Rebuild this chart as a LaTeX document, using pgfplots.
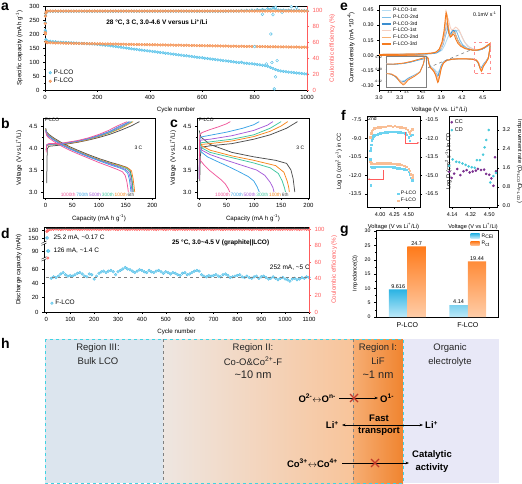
\documentclass[border=0pt]{standalone}
\usepackage{fontspec}
\setmainfont{Liberation Sans}
\usepackage{pgfplots}
\pgfplotsset{compat=1.18}
\usepackage{pgfplotstable}
\usetikzlibrary{arrows.meta}
\newcommand\fs[2]{\fontsize{#1}{#2}\selectfont}
\definecolor{pblue}{HTML}{8CD8F4}
\definecolor{pblueD}{HTML}{4FBDE6}
\definecolor{forange}{HTML}{F9AE7C}
\definecolor{forangeD}{HTML}{F28A48}
\definecolor{cered}{HTML}{FF5C5C}
\definecolor{c1000}{HTML}{F0569A}
\definecolor{c700}{HTML}{3BA3E6}
\definecolor{c500}{HTML}{A55BD8}
\definecolor{c300}{HTML}{3FC7A0}
\definecolor{c100}{HTML}{F7861C}
\definecolor{c6}{HTML}{4D4D4D}
\definecolor{eP1}{HTML}{B5DCF2}
\definecolor{eP2}{HTML}{7DBFE8}
\definecolor{eP3}{HTML}{3A8ED0}
\definecolor{eF1}{HTML}{F6CFC0}
\definecolor{eF2}{HTML}{F9B070}
\definecolor{eF3}{HTML}{F47B20}
\definecolor{fcyan}{HTML}{6DD3F0}
\definecolor{forg}{HTML}{F9BE95}
\definecolor{ccpur}{HTML}{7A2F8F}
\definecolor{cdcyan}{HTML}{45C8DA}
\definecolor{gcyanT}{HTML}{2BB3E3}
\definecolor{gcyanB}{HTML}{BDE9F8}
\definecolor{gorT}{HTML}{FF7A1A}
\definecolor{gorB}{HTML}{FFCDA8}
\definecolor{hIII}{HTML}{DCE5EE}
\definecolor{hIIa}{HTML}{EEE6E1}
\definecolor{hIIb}{HTML}{F8C49A}
\definecolor{hIa}{HTML}{F6AE74}
\definecolor{hIb}{HTML}{F0842F}
\definecolor{hEl}{HTML}{E8E8F7}
\definecolor{hcyan}{HTML}{3FD3E3}
\definecolor{xred}{HTML}{C0392B}

\pgfplotsset{
  /pgf/number format/assume math mode=true,
  /pgf/number format/set thousands separator={},
  base/.style={scale only axis, anchor=north west, clip mode=individual,
    axis line style={line width=0.5pt}, tick style={line width=0.4pt, black},
    tick align=outside, major tick length=2pt, minor tick length=1.2pt,
    tick label style={font=\fs{6}{7}}, label style={font=\fs{6.2}{7}}},
  fx1/.style={xticklabel style={/pgf/number format/fixed,/pgf/number format/fixed zerofill,/pgf/number format/precision=1}},
  fx2/.style={xticklabel style={/pgf/number format/fixed,/pgf/number format/fixed zerofill,/pgf/number format/precision=2}},
  fy1/.style={yticklabel style={/pgf/number format/fixed,/pgf/number format/fixed zerofill,/pgf/number format/precision=1}},
  fy2/.style={yticklabel style={/pgf/number format/fixed,/pgf/number format/fixed zerofill,/pgf/number format/precision=2}},
  pmark/.style={only marks, mark=*, mark size=1.4pt, mark options={fill=pblue, draw=pblueD, line width=0.3pt}},
  fmark/.style={only marks, mark=*, mark size=1.4pt, mark options={fill=forange, draw=forangeD, line width=0.3pt}},
}

% ---------------- panel a data ----------------
\pgfplotstableread{
c cap ce
1 213 85
2 208 94
3 180 97
5 176 98.5
10 175 99.2
20 174 99.3
30 173 99.3
40 172 99.3
50 171 99.3
60 170.5 99.3
70 170 99.3
80 169.5 99.3
90 169 99.3
100 168.5 99.3
110 168 99.3
120 167.5 99.3
130 167 99.3
140 166.5 99.3
150 166 99.3
160 165.5 99.3
170 165 99.3
180 164.5 99.3
190 164 99.3
200 163 99.3
210 162 99.3
220 161 99.3
230 160 99.3
240 159 99.3
250 158 99.3
260 156.5 99.3
270 155.5 99.3
280 154 99.3
290 152.5 99.3
300 151 99.4
310 150 99.4
320 148.5 99.4
330 147 99.4
340 146 99.4
350 145 99.4
360 143.5 99.4
370 142.5 99.4
380 141 99.4
390 140 99.4
400 139 99.4
410 137.5 99.4
420 136.5 99.4
430 135 99.4
440 134 99.4
450 133 99.4
460 131.5 99.4
470 130.5 99.4
480 129 99.4
490 128 99.4
500 127 99.4
510 125.5 99.4
520 124.5 99.4
530 123 99.4
540 122 99.4
550 121 99.4
560 119.5 99.4
570 118.5 99.4
580 117 99.4
590 116 99.4
600 115 99.4
610 113.5 99.4
620 112.5 99.4
630 111 99.4
640 110 99.4
650 109 99.4
660 107.5 99.4
670 106.5 99.4
680 105 99.4
690 104 99.4
700 103 99.5
710 101.5 99.6
720 100.5 99.5
730 99 99.8
740 98 99.6
750 99 100.2
760 96 99.7
770 95.5 100.5
780 94.5 99.8
790 93.5 100.8
800 92.5 100.1
810 91 101.2
820 90 100.4
830 88.5 101.5
840 87 100.6
850 85 102.5
860 81 101.8
870 77 103.5
880 73 102.2
890 70 101.0
900 68 100.6
910 66.5 100.9
920 65 100.4
930 64 100.7
940 63 100.3
950 62 100.6
960 61 100.2
970 60 100.4
980 59 100.1
990 58 100.3
1000 57 100.0
}\aP

\pgfplotstableread{
c cap ce
1 205 84
2 200 93
3 172 97
5 170 98.8
10 169 99.6
20 168.5 99.6
30 168.5 99.6
40 168 99.6
50 168 99.6
60 167.5 99.6
70 167.5 99.6
80 167 99.6
90 167 99.6
100 167 99.6
110 166.5 99.6
120 166.5 99.6
130 166 99.6
140 166 99.6
150 166 99.6
160 165.5 99.6
170 165.5 99.6
180 165.5 99.6
190 165 99.6
200 165 99.6
210 165 99.6
220 164.5 99.6
230 164.5 99.6
240 164.5 99.6
250 164 99.6
260 164 99.6
270 164 99.6
280 163.5 99.6
290 163.5 99.6
300 163.5 99.6
310 163 99.6
320 163 99.6
330 163 99.6
340 162.5 99.6
350 162.5 99.6
360 162.5 99.6
370 162 99.6
380 162 99.6
390 162 99.6
400 161.5 99.6
410 161.5 99.6
420 161.5 99.6
430 161 99.6
440 161 99.6
450 161 99.6
460 160.5 99.6
470 160.5 99.6
480 160.5 99.6
490 160 99.6
500 160 99.6
510 160 99.6
520 159.5 99.6
530 159.5 99.6
540 159.5 99.6
550 159 99.6
560 159 99.6
570 159 99.6
580 158.5 99.6
590 158.5 99.6
600 158.5 99.6
610 158 99.6
620 158 99.6
630 158 99.6
640 157.5 99.6
650 157.5 99.6
660 157.5 99.6
670 157 99.6
680 157 99.6
690 157 99.6
700 156.5 99.6
710 156.5 99.6
720 156.5 99.6
730 156 99.6
740 156 99.6
750 156 99.6
760 156 99.6
770 155.5 99.6
780 155.5 99.6
790 155.5 99.6
800 155.5 99.6
810 155 99.6
820 155 99.6
830 155 99.6
840 155 99.6
850 154.5 99.6
860 154.5 99.6
870 154.5 99.6
880 154.5 99.6
890 154 99.6
900 154 99.6
910 154 99.6
920 154 99.6
930 153.5 99.6
940 153.5 99.6
950 153.5 99.6
960 153.5 99.6
970 153 99.6
980 153 99.6
990 153 99.6
1000 153 99.6
}\aF

% ---------------- panel d data (capacity axis: 0-60 true, 90 -> 85.1, 150 -> 103.2) ----------------
\pgfplotstableread{
c cap ce
2 103.2 97
4 103.2 98
6 85.1 65
8 85.1 98.5
10 85.1 99
20 47 99.5
30 49 99.6
40 48 99.8
50 50 99.5
60 53 99.3
70 55 99.6
80 52 99.8
90 50 99.5
100 51 99.3
110 50 99.6
120 52 99.8
130 54 99.5
140 55 99.3
150 53 99.6
160 50 99.8
170 49 99.5
180 53 99.3
190 52 99.6
200 46 99.8
210 50 99.5
220 54 99.3
230 56 99.6
240 57 99.8
250 55 99.5
260 57 99.3
270 58 99.6
280 56 99.8
290 52 99.5
300 56 99.3
310 58 99.6
320 60 99.8
330 62 99.5
340 60 99.3
350 59 99.6
360 57 99.8
370 55 99.5
380 57 99.3
390 59 99.6
400 58 99.8
410 56 99.5
420 55 99.3
430 58 99.6
440 56 99.8
450 55 99.5
460 57 99.3
470 58 99.6
480 56 99.8
490 54 99.5
500 56 99.3
510 55 99.6
520 53 99.8
530 55 99.5
540 54 99.3
550 52 99.6
560 51 99.8
570 54 99.5
580 55 99.3
590 52 99.6
600 53 99.8
610 55 99.5
620 57 99.3
630 58 99.6
640 57 99.8
650 52 99.5
660 50 99.3
670 49 99.6
680 51 99.8
690 50 99.5
700 51 99.3
710 52 99.6
720 50 99.8
730 49 99.5
740 52 99.3
750 53 99.6
760 51 99.8
770 48 99.5
780 49 99.3
790 50 99.6
800 51 99.8
810 52 99.5
820 49 99.3
830 48 99.6
840 50 99.8
850 48 99.5
860 47 99.3
870 49 99.6
880 50 99.8
890 47 99.5
900 49 99.3
910 50 99.6
920 48 99.8
930 46 99.5
940 47 99.3
950 49 99.6
960 47 99.8
970 45 99.5
980 47 99.3
990 48 99.6
1000 46 99.8
1010 45 99.5
1020 43 99.3
1030 46 99.6
1040 47 99.8
1050 45 99.5
1060 46 99.3
1070 48 99.6
1080 47 99.8
1090 49 99.5
1100 48 99.3
}\dF

% ---------------- panel e data ----------------
\pgfplotstableread{
v i
3.00 0.008
3.50 0.012
3.75 0.018
3.85 0.028
3.91 0.050
3.95 0.100
3.99 0.170
4.02 0.215
4.03 0.220
4.05 0.205
4.08 0.210
4.11 0.240
4.13 0.250
4.15 0.245
4.18 0.215
4.21 0.170
4.25 0.120
4.30 0.085
4.37 0.060
4.43 0.054
4.48 0.060
4.53 0.076
4.57 0.092
4.61 0.106
4.60 0.045
4.58 -0.026
4.55 -0.055
4.51 -0.088
4.49 -0.112
4.47 -0.120
4.45 -0.097
4.43 -0.066
4.40 -0.044
4.35 -0.036
4.25 -0.033
4.15 -0.033
4.05 -0.038
3.98 -0.047
3.93 -0.066
3.90 -0.098
3.88 -0.140
3.86 -0.165
3.85 -0.170
3.83 -0.162
3.81 -0.145
3.79 -0.132
3.76 -0.118
3.74 -0.104
3.72 -0.072
3.71 -0.030
3.68 -0.010
3.50 -0.005
3.00 0.000
}\ePone
\pgfplotstableread{
v i
3.00 0.006
3.50 0.010
3.75 0.016
3.84 0.026
3.89 0.050
3.93 0.110
3.96 0.190
3.99 0.255
4.00 0.270
4.01 0.255
4.03 0.215
4.05 0.205
4.08 0.235
4.10 0.250
4.12 0.240
4.14 0.205
4.17 0.150
4.21 0.105
4.27 0.072
4.35 0.055
4.42 0.050
4.48 0.058
4.53 0.075
4.57 0.093
4.61 0.108
4.60 0.045
4.58 -0.028
4.55 -0.058
4.51 -0.092
4.49 -0.118
4.47 -0.125
4.45 -0.100
4.43 -0.068
4.40 -0.045
4.35 -0.037
4.25 -0.033
4.15 -0.033
4.05 -0.039
3.98 -0.049
3.93 -0.070
3.90 -0.105
3.88 -0.150
3.86 -0.185
3.84 -0.190
3.83 -0.182
3.81 -0.160
3.79 -0.142
3.76 -0.125
3.74 -0.108
3.72 -0.074
3.71 -0.030
3.68 -0.010
3.50 -0.005
3.00 0.000
}\ePtwo
\pgfplotstableread{
v i
3.00 0.006
3.50 0.010
3.75 0.016
3.83 0.025
3.88 0.050
3.92 0.110
3.95 0.200
3.97 0.280
3.98 0.310
3.99 0.290
4.01 0.220
4.03 0.200
4.05 0.230
4.07 0.250
4.09 0.240
4.11 0.200
4.14 0.150
4.18 0.105
4.25 0.070
4.35 0.052
4.42 0.050
4.48 0.058
4.53 0.075
4.57 0.095
4.61 0.110
4.60 0.045
4.58 -0.030
4.55 -0.060
4.51 -0.095
4.49 -0.122
4.47 -0.130
4.45 -0.105
4.43 -0.070
4.40 -0.046
4.35 -0.038
4.25 -0.034
4.15 -0.034
4.05 -0.040
3.98 -0.050
3.93 -0.072
3.90 -0.110
3.88 -0.160
3.86 -0.200
3.84 -0.210
3.83 -0.200
3.81 -0.170
3.79 -0.150
3.76 -0.130
3.74 -0.110
3.72 -0.075
3.71 -0.030
3.68 -0.010
3.50 -0.005
3.00 0.000
}\ePthree
\pgfplotstableread{
v i
3.00 0.010
3.50 0.014
3.75 0.022
3.84 0.035
3.90 0.070
3.94 0.150
3.97 0.260
3.99 0.340
4.00 0.360
4.01 0.340
4.03 0.280
4.05 0.250
4.08 0.260
4.11 0.280
4.13 0.270
4.16 0.250
4.19 0.200
4.23 0.140
4.28 0.090
4.35 0.062
4.42 0.055
4.48 0.064
4.53 0.082
4.57 0.100
4.61 0.115
4.60 0.050
4.58 -0.030
4.55 -0.062
4.51 -0.100
4.49 -0.132
4.48 -0.140
4.46 -0.112
4.44 -0.072
4.41 -0.046
4.35 -0.036
4.25 -0.033
4.15 -0.033
4.05 -0.038
3.98 -0.048
3.93 -0.075
3.90 -0.120
3.88 -0.180
3.86 -0.225
3.85 -0.230
3.84 -0.215
3.82 -0.180
3.80 -0.155
3.77 -0.132
3.74 -0.112
3.72 -0.075
3.71 -0.030
3.68 -0.010
3.50 -0.005
3.00 0.000
}\eFone
\pgfplotstableread{
v i
3.00 0.008
3.50 0.012
3.75 0.020
3.83 0.032
3.88 0.065
3.92 0.140
3.95 0.260
3.97 0.370
3.98 0.410
3.99 0.380
4.00 0.310
4.02 0.220
4.04 0.190
4.06 0.210
4.08 0.235
4.10 0.220
4.12 0.180
4.15 0.130
4.20 0.090
4.27 0.065
4.35 0.052
4.42 0.052
4.48 0.062
4.53 0.080
4.57 0.100
4.61 0.118
4.60 0.050
4.58 -0.030
4.55 -0.065
4.51 -0.105
4.49 -0.140
4.48 -0.150
4.46 -0.120
4.44 -0.075
4.41 -0.048
4.35 -0.038
4.25 -0.034
4.15 -0.034
4.05 -0.040
3.98 -0.050
3.93 -0.078
3.90 -0.125
3.88 -0.190
3.86 -0.245
3.85 -0.250
3.84 -0.235
3.82 -0.195
3.80 -0.165
3.77 -0.138
3.74 -0.118
3.72 -0.078
3.71 -0.030
3.68 -0.010
3.50 -0.005
3.00 0.000
}\eFtwo
\pgfplotstableread{
v i
3.00 0.008
3.30 0.010
3.50 0.012
3.65 0.015
3.75 0.020
3.82 0.030
3.87 0.060
3.91 0.130
3.94 0.240
3.96 0.370
3.97 0.430
3.98 0.400
3.99 0.320
4.01 0.220
4.03 0.180
4.05 0.190
4.07 0.210
4.09 0.200
4.11 0.160
4.14 0.120
4.18 0.090
4.25 0.065
4.35 0.052
4.42 0.052
4.48 0.062
4.53 0.080
4.57 0.100
4.61 0.120
4.60 0.050
4.58 -0.030
4.55 -0.070
4.51 -0.110
4.49 -0.150
4.48 -0.160
4.46 -0.130
4.44 -0.080
4.41 -0.050
4.35 -0.040
4.25 -0.035
4.15 -0.035
4.05 -0.040
3.98 -0.050
3.93 -0.080
3.90 -0.130
3.88 -0.200
3.86 -0.260
3.85 -0.270
3.84 -0.250
3.82 -0.200
3.80 -0.170
3.77 -0.140
3.74 -0.120
3.72 -0.080
3.71 -0.030
3.68 -0.010
3.50 -0.005
3.00 0.000
}\eFthree

\begin{document}
\begin{tikzpicture}
\useasboundingbox (0,0) rectangle (522pt,-484pt);

% ================= panel a =================
\begin{axis}[base, xtick pos=left, ytick pos=left, at={(45pt,-6pt)}, width=262pt, height=84pt,
  xmin=0, xmax=1000, ymin=0, ymax=300, xtick={0,200,...,1000}, ytick={0,50,...,300},
  minor x tick num=1, minor y tick num=1,
  xlabel={Cycle number}, ylabel={Specific capacity (mAh g\textsuperscript{-1})},
  legend style={draw=none, fill=none, at={(0.01,0.03)}, anchor=south west, font=\fs{6.5}{7.5}, row sep=-1.5pt, inner sep=1pt},
  legend cell align=left]
\addplot[pmark] table[x=c,y=cap]{\aP};
\addlegendentry{P-LCO}
\addplot[fmark] table[x=c,y=cap]{\aF};
\addlegendentry{F-LCO}
\addplot[pmark, mark options={fill=white, draw=pblueD}, forget plot] coordinates {(800,155) (862,200) (875,4) (880,47) (886,105) (866,98) (845,93)};
\node[font=\bfseries\fs{6.5}{7}] at (axis cs:427,240) {28 °C, 3 C, 3.0-4.6 V versus Li\textsuperscript{+}/Li};
\end{axis}
\begin{axis}[base, at={(45pt,-6pt)}, width=262pt, height=84pt,
  xmin=0, xmax=1000, ymin=0, ymax=106, axis x line=none, axis y line*=right,
  ytick={0,20,...,100}, minor y tick num=1,
  y axis line style={cered, line width=0.7pt}, ytick style={cered}, yticklabel style={cered},
  ylabel={Coulombic efficiency (\%)}, ylabel style={cered}]
\addplot[pmark] table[x=c,y=ce]{\aP};
\addplot[pmark, mark options={fill=white, draw=pblueD}] coordinates {(830,95.5) (870,95) (905,98) (880,104.5) (940,105) (960,104)};
\addplot[fmark] table[x=c,y=ce]{\aF};
\end{axis}

% ================= panel b =================
\begin{axis}[base, fy1, xtick pos=left, ytick pos=left, at={(43pt,-118pt)}, width=112pt, height=80pt,
  xmin=-5, xmax=205, ymin=2.864, ymax=4.682, xtick={0,50,...,200}, ytick={3.0,3.5,4.0,4.5},
  minor x tick num=1, minor y tick num=1,
  xlabel={Capacity (mA h g\textsuperscript{-1})}, ylabel={Voltage (V vs.Li\textsuperscript{+}/Li)},
  every axis plot/.append style={line width=0.75pt, no marks}]
\addplot[c6] coordinates {(2,3.2)(2.5,3.7)(3,3.98)(6,4.04)(15,4.05)(30,4.07)(45,4.1)(60,4.13)(80,4.18)(100,4.24)(120,4.31)(140,4.4)(160,4.5)(176,4.6)};
\addplot[c6] coordinates {(0,4.45)(2,4.36)(6,4.31)(15,4.23)(30,4.12)(45,4.03)(60,3.95)(80,3.85)(100,3.76)(120,3.68)(140,3.61)(152,3.56)(158,3.5)(161,3.35)(163,3.15)(164,3.0)};
\addplot[c100] coordinates {(1,3.95)(2,4.05)(6,4.07)(15,4.075)(30,4.085)(45,4.11)(60,4.14)(80,4.19)(100,4.26)(120,4.34)(140,4.44)(155,4.54)(164,4.6)};
\addplot[c100] coordinates {(0,4.43)(2,4.34)(6,4.29)(15,4.21)(30,4.1)(45,4.01)(60,3.93)(80,3.83)(100,3.74)(120,3.66)(140,3.6)(155,3.54)(161,3.48)(164,3.3)(166,3.1)(167,3.0)};
\addplot[c300] coordinates {(1,3.95)(2,4.06)(6,4.08)(15,4.085)(30,4.095)(45,4.12)(60,4.15)(80,4.2)(100,4.27)(120,4.35)(140,4.46)(155,4.56)(162,4.6)};
\addplot[c300] coordinates {(0,4.42)(2,4.33)(6,4.28)(15,4.2)(30,4.09)(45,4.0)(60,3.92)(80,3.82)(100,3.73)(120,3.65)(140,3.58)(152,3.53)(158,3.46)(161,3.3)(163,3.1)(164,3.0)};
\addplot[c500] coordinates {(1,3.95)(2,4.06)(6,4.085)(15,4.09)(30,4.1)(45,4.125)(60,4.155)(80,4.21)(100,4.28)(120,4.37)(138,4.47)(152,4.56)(159,4.6)};
\addplot[c500] coordinates {(0,4.41)(2,4.32)(6,4.27)(15,4.19)(30,4.08)(45,3.99)(60,3.91)(80,3.81)(100,3.72)(120,3.64)(140,3.56)(150,3.51)(156,3.44)(159,3.3)(161,3.1)(162,3.0)};
\addplot[c700] coordinates {(1,3.95)(2,4.07)(6,4.09)(15,4.095)(30,4.105)(45,4.13)(60,4.16)(80,4.22)(100,4.29)(120,4.38)(136,4.48)(150,4.56)(157,4.6)};
\addplot[c700] coordinates {(0,4.4)(2,4.31)(6,4.26)(15,4.18)(30,4.07)(45,3.98)(60,3.9)(80,3.8)(100,3.71)(120,3.62)(138,3.55)(148,3.5)(154,3.42)(157,3.28)(159,3.1)(160,3.0)};
\addplot[c1000] coordinates {(1,3.9)(2,4.08)(6,4.1)(15,4.1)(30,4.11)(45,4.14)(60,4.17)(80,4.23)(100,4.31)(118,4.4)(134,4.5)(147,4.57)(153,4.6)};
\addplot[c1000] coordinates {(0,4.38)(2,4.28)(6,4.23)(15,4.15)(30,4.04)(45,3.95)(60,3.87)(80,3.77)(100,3.67)(120,3.58)(135,3.51)(144,3.46)(149,3.38)(152,3.25)(154,3.1)(155,3.0)};
\node[font=\fs{4.8}{5}, anchor=west, inner sep=0] at (axis cs:-2,4.63) {F-LCO};
\node[font=\fs{5}{5}] at (axis cs:174,4.0) {3 C};
\node[font=\fs{4.8}{5}, anchor=west, inner sep=0] at (axis cs:28,2.93) {\color{c1000}1000th\,\color{c700}700th\,\color{c500}500th\,\color{c300}300th\,\color{c100}100th\,\color{c6}6th};
\end{axis}

% ================= panel c =================
\begin{axis}[base, fy1, xtick pos=left, ytick pos=left, at={(197pt,-118pt)}, width=112pt, height=80pt,
  xmin=-4, xmax=201, ymin=2.864, ymax=4.682, xtick={0,50,...,200}, ytick={3.0,3.5,4.0,4.5},
  minor x tick num=1, minor y tick num=1,
  xlabel={Capacity (mA h g\textsuperscript{-1})}, ylabel={Voltage (V vs.Li\textsuperscript{+}/Li)},
  every axis plot/.append style={line width=0.75pt, no marks}]
\addplot[c6] coordinates {(1,3.25)(2,3.8)(4,4.02)(20,4.05)(60,4.1)(100,4.2)(130,4.3)(160,4.45)(180,4.6)};
\addplot[c6] coordinates {(0,4.4)(3,4.25)(20,4.08)(60,3.9)(100,3.8)(140,3.72)(160,3.65)(168,3.5)(172,3.3)(174,3.1)(175,3.0)};
\addplot[c100] coordinates {(1,4.05)(3,4.08)(20,4.1)(60,4.16)(100,4.26)(130,4.38)(150,4.5)(162,4.6)};
\addplot[c100] coordinates {(0,4.18)(5,4.05)(20,3.95)(60,3.82)(100,3.72)(140,3.6)(155,3.45)(161,3.25)(164,3.1)(165,3.0)};
\addplot[c300] coordinates {(0,3.3)(1,4.05)(3,4.12)(20,4.14)(60,4.2)(100,4.3)(130,4.45)(150,4.6)};
\addplot[c300] coordinates {(0,4.12)(5,4.0)(20,3.9)(60,3.78)(100,3.66)(130,3.55)(145,3.42)(152,3.25)(156,3.1)(158,3.0)};
\addplot[c500] coordinates {(0,3.3)(1,4.1)(3,4.18)(20,4.2)(60,4.28)(100,4.4)(125,4.52)(135,4.6)};
\addplot[c500] coordinates {(0,4.05)(5,3.95)(20,3.85)(50,3.72)(80,3.6)(105,3.5)(120,3.38)(130,3.22)(135,3.1)(137,3.0)};
\addplot[c700] coordinates {(0,3.3)(1,4.2)(3,4.25)(20,4.29)(50,4.36)(80,4.45)(100,4.53)(110,4.6)};
\addplot[c700] coordinates {(0,4.0)(3,3.92)(15,3.8)(32,3.7)(50,3.6)(70,3.48)(90,3.35)(100,3.25)(106,3.12)(110,3.0)};
\addplot[c1000] coordinates {(0,3.3)(0.5,4.0)(1,4.3)(5,4.35)(20,4.42)(35,4.48)(50,4.55)(57,4.6)};
\addplot[c1000] coordinates {(0,3.85)(2,3.72)(10,3.6)(20,3.48)(30,3.38)(40,3.28)(48,3.18)(53,3.08)(56,3.0)};
\node[font=\fs{4.8}{5}, anchor=west, inner sep=0] at (axis cs:-1,4.63) {P-LCO};
\node[font=\fs{5}{5}] at (axis cs:185,4.0) {3 C};
\node[font=\fs{4.8}{5}, anchor=west, inner sep=0] at (axis cs:29,2.93) {\color{c1000}1000th\,\color{c700}700th\,\color{c500}500th\,\color{c300}300th\,\color{c100}100th\,\color{c6}6th};
\end{axis}

% ================= panel d =================
\begin{axis}[base, xtick pos=left, ytick pos=left, at={(44pt,-227pt)}, width=265pt, height=85pt,
  xmin=-10, xmax=1100, ymin=0, ymax=118.5, xtick={0,100,...,1100},
  ytick={0,20,40,60,85.1,103.2,114.4}, yticklabels={0,20,40,60,90,150,160},
  minor x tick num=1,
  xlabel={Cycle number}, ylabel={Discharge capacity (mAh)},
  legend style={draw=none, fill=none, at={(0.02,0.03)}, anchor=south west, font=\fs{6.5}{7.5}, inner sep=1pt},
  legend cell align=left]
\addplot[pmark] table[x=c,y=cap]{\dF};
\addlegendentry{F-LCO}
\addplot[gray, dashed, line width=0.5pt, forget plot] coordinates {(0,49) (1100,49)};
\fill[white] ([xshift=-3pt,yshift=-1.2pt]axis cs:-10,74) rectangle ([xshift=3pt,yshift=1.2pt]axis cs:-10,74);
\draw[line width=0.4pt] ([xshift=-2.5pt,yshift=-2.2pt]axis cs:-10,74) -- ([xshift=2.5pt,yshift=0.2pt]axis cs:-10,74);
\draw[line width=0.4pt] ([xshift=-2.5pt,yshift=-0.2pt]axis cs:-10,74) -- ([xshift=2.5pt,yshift=2.2pt]axis cs:-10,74);
\fill[white] ([xshift=-3pt,yshift=-1.2pt]axis cs:-10,96) rectangle ([xshift=3pt,yshift=1.2pt]axis cs:-10,96);
\draw[line width=0.4pt] ([xshift=-2.5pt,yshift=-2.2pt]axis cs:-10,96) -- ([xshift=2.5pt,yshift=0.2pt]axis cs:-10,96);
\draw[line width=0.4pt] ([xshift=-2.5pt,yshift=-0.2pt]axis cs:-10,96) -- ([xshift=2.5pt,yshift=2.2pt]axis cs:-10,96);
\node[font=\fs{6.5}{7}, anchor=west, inner sep=0] at (axis cs:30,103.2) {25.2 mA, \textasciitilde0.17 C};
\node[font=\fs{6.5}{7}, anchor=west, inner sep=0] at (axis cs:30,85.1) {126 mA, \textasciitilde1.4 C};
\node[font=\bfseries\fs{6.5}{7}] at (axis cs:730,97) {25 °C, 3.0\textasciitilde4.5 V (graphite||LCO)};
\node[font=\fs{6.5}{7}] at (axis cs:1020,62) {252 mA, \textasciitilde5 C};
\end{axis}
\begin{axis}[base, at={(44pt,-227pt)}, width=265pt, height=85pt,
  xmin=-10, xmax=1100, ymin=0, ymax=102.4, axis x line=none, axis y line*=right,
  ytick={0,20,...,100}, minor y tick num=1,
  y axis line style={cered, line width=0.7pt}, ytick style={cered}, yticklabel style={cered},
  ylabel={Coulombic efficiency (\%)}, ylabel style={cered}]
\addplot[only marks, mark=*, mark size=1.3pt, mark options={fill=cered!60, draw=cered, line width=0.3pt}] table[x=c,y=ce]{\dF};
\addplot[black!75, line width=0.7pt] coordinates {(0,101.3) (1100,101.3)};
\end{axis}

% ================= panel e =================
\begin{axis}[base, fx1, fy2, xtick pos=left, ytick pos=left, at={(379pt,-5pt)}, width=121pt, height=85pt,
  xmin=3.0, xmax=4.75, ymin=-0.345, ymax=0.5,
  xtick={3.0,3.3,3.6,3.9,4.2,4.5}, ytick={-0.30,-0.15,0,0.15,0.30,0.45},
  tick label style={font=\fs{5.3}{6}}, label style={font=\fs{6}{7}},
  xlabel={Voltage (V vs. Li\textsuperscript{+}/Li)}, ylabel={Current density (mA *10\textsuperscript{-4})},
  every axis plot/.append style={line width=0.9pt, no marks},
  legend style={draw=none, fill=none, at={(0.01,0.995)}, anchor=north west, font=\fs{5}{5.3}, row sep=-2.4pt, inner sep=0.5pt},
  legend cell align=left,
  legend image code/.code={\draw[#1, line width=1.2pt] (0pt,0pt) -- (9pt,0pt);}]
\addplot[eP1] table[x=v,y=i]{\ePone};
\addlegendentry{P-LCO-1st}
\addplot[eP2] table[x=v,y=i]{\ePtwo};
\addlegendentry{P-LCO-2nd}
\addplot[eP3] table[x=v,y=i]{\ePthree};
\addlegendentry{P-LCO-3rd}
\addplot[eF1] table[x=v,y=i]{\eFone};
\addlegendentry{F-LCO-1st}
\addplot[eF2] table[x=v,y=i]{\eFtwo};
\addlegendentry{F-LCO-2nd}
\addplot[eF3] table[x=v,y=i]{\eFthree};
\addlegendentry{F-LCO-3rd}
\addplot[gray, dashed, line width=0.6pt, forget plot] coordinates {(3.71,-0.124) (4.34,0.057)};
\draw[cered!70, dashed, line width=0.6pt] (axis cs:4.38,-0.176) rectangle (axis cs:4.61,0.133);
\node[font=\fs{5.3}{6}] at (axis cs:4.53,0.41) {0.1mV s\textsuperscript{-1}};
\end{axis}
\begin{axis}[base, fx1, fy2, xtick pos=left, ytick pos=left, at={(386.5pt,-56pt)}, width=40pt, height=31pt,
  xmin=4.38, xmax=4.62, ymin=-0.18, ymax=0.135, xtick={4.4,4.5,4.6}, ytick={-0.12,0,0.12},
  tick label style={font=\fs{3.2}{3.5}}, major tick length=1pt,
  axis background/.style={fill=white}, axis line style={gray, line width=0.6pt},
  every axis plot/.append style={line width=0.6pt, no marks}]
\addplot[eP1] table[x=v,y=i]{\ePone};
\addplot[eP2] table[x=v,y=i]{\ePtwo};
\addplot[eP3] table[x=v,y=i]{\ePthree};
\addplot[eF1] table[x=v,y=i]{\eFone};
\addplot[eF2] table[x=v,y=i]{\eFtwo};
\addplot[eF3] table[x=v,y=i]{\eFthree};
\end{axis}

% ================= panel f (left) =================
\begin{axis}[base, fx2, fy1, xtick pos=left, ytick pos=left, at={(367pt,-116pt)}, width=53pt, height=91pt,
  xmin=3.77, xmax=4.70, ymin=-14.55, ymax=-7.2, xtick={4.00,4.25,4.50}, ytick={-13.5,-12,-10.5,-9,-7.5},
  tick label style={font=\fs{5.5}{6}}, label style={font=\fs{5.8}{6.5}},
  xlabel={Voltage (V vs Li\textsuperscript{+}/Li)}, ylabel={Log D (cm\textsuperscript{2} s\textsuperscript{-1}) in CC},
  legend style={draw=none, fill=none, at={(0.98,0.01)}, anchor=south east, font=\fs{5}{5.5}, row sep=-2pt, inner sep=0.5pt},
  legend cell align=left]
\addplot[only marks, mark=square*, mark size=0.75pt, mark options={fill=fcyan, draw=fcyan}] coordinates {(3.83,-10.0)(3.835,-9.8)(3.84,-9.5)(3.85,-9.2)(3.86,-9.0)(3.88,-8.85)(3.9,-8.75)(3.93,-8.7)(3.96,-8.65)(4.0,-8.6)(4.04,-8.55)(4.08,-8.5)(4.12,-8.5)(4.16,-8.45)(4.2,-8.45)(4.24,-8.45)(4.28,-8.45)(4.32,-8.5)(4.36,-8.5)(4.4,-8.55)(4.44,-8.6)(4.47,-8.7)(4.5,-8.9)(4.52,-9.2)(4.54,-8.8)(4.56,-8.7)};
\addlegendentry{P-LCO}
\addplot[only marks, mark=square*, mark size=0.75pt, mark options={fill=forg, draw=forg}] coordinates {(3.83,-8.9)(3.84,-8.6)(3.85,-8.4)(3.87,-8.3)(3.9,-8.2)(3.93,-8.15)(3.96,-8.1)(4.0,-8.1)(4.03,-8.05)(4.06,-8.05)(4.1,-8.05)(4.14,-8.0)(4.18,-8.0)(4.22,-8.05)(4.26,-8.0)(4.3,-8.05)(4.34,-8.1)(4.38,-8.1)(4.42,-8.15)(4.45,-8.2)(4.48,-8.3)(4.5,-8.45)(4.52,-8.6)(4.54,-8.4)(4.56,-8.25)};
\addlegendentry{F-LCO}
\draw[cered, line width=0.6pt, -{Stealth[length=2.5pt]}] (axis cs:4.44,-8.52) -- (axis cs:4.44,-9.37) -- (axis cs:4.69,-9.37);
\draw[cered, line width=0.6pt, -{Stealth[length=2.5pt]}] (axis cs:4.05,-11.59) -- (axis cs:4.05,-12.31) -- (axis cs:3.78,-12.31);
\node[font=\fs{5}{5}, anchor=north west, inner sep=0.5pt] at (rel axis cs:0.01,0.995) {2nd};
\end{axis}
\begin{axis}[base, fy1, at={(367pt,-116pt)}, width=53pt, height=91pt,
  xmin=3.77, xmax=4.70, ymin=-17.55, ymax=-10.2, axis x line=none, axis y line*=right,
  ytick={-16.5,-15,-13.5,-12,-10.5},
  tick label style={font=\fs{5.5}{6}}, label style={font=\fs{5.8}{6.5}},
  ylabel={Log D (cm\textsuperscript{2} s\textsuperscript{-1}) in CD}]
\addplot[only marks, mark=square*, mark size=0.75pt, mark options={fill=fcyan, draw=fcyan}] coordinates {(3.83,-13.7)(3.835,-15.8)(3.84,-14.3)(3.86,-14.35)(3.9,-14.35)(3.94,-14.3)(3.98,-14.3)(4.02,-14.3)(4.06,-14.3)(4.1,-14.3)(4.14,-14.3)(4.18,-14.3)(4.22,-14.35)(4.26,-14.35)(4.3,-14.4)(4.34,-14.4)(4.38,-14.45)(4.42,-14.5)(4.46,-14.55)(4.5,-14.7)(4.52,-14.9)(4.54,-15.2)(4.56,-15.4)(4.57,-15.1)};
\addplot[only marks, mark=square*, mark size=0.75pt, mark options={fill=forg, draw=forg}] coordinates {(3.83,-13.9)(3.84,-14.0)(3.86,-14.05)(3.9,-14.05)(3.94,-14.0)(3.98,-14.0)(4.02,-14.0)(4.06,-14.0)(4.1,-14.0)(4.14,-14.0)(4.18,-14.0)(4.22,-14.05)(4.26,-14.05)(4.3,-14.1)(4.34,-14.1)(4.38,-14.15)(4.42,-14.2)(4.46,-14.3)(4.5,-14.45)(4.52,-14.6)(4.54,-14.9)(4.56,-15.2)(4.57,-15.0)};
\end{axis}

% ================= panel f (right) =================
\begin{axis}[base, fx2, fy1, xtick pos=left, ytick pos=right, yticklabel pos=right, at={(449pt,-116pt)}, width=48pt, height=91pt,
  xmin=4.11, xmax=4.575, ymin=-0.055, ymax=3.78, xtick={4.14,4.32,4.50}, ytick={0,0.8,1.6,2.4,3.2},
  tick label style={font=\fs{5.5}{6}}, label style={font=\fs{5.6}{6.5}},
  xlabel={Voltage (V vs Li\textsuperscript{+}/Li)}, ylabel={Improvement rate (D\textsubscript{F-LCO}/D\textsubscript{P-LCO})},
  ylabel style={rotate=180},
  legend style={draw=none, fill=none, at={(0.02,0.99)}, anchor=north west, font=\fs{5.5}{6}, row sep=-1.5pt, inner sep=0.5pt},
  legend cell align=left]
\addplot[only marks, mark=*, mark size=1.1pt, mark options={fill=ccpur, draw=ccpur}] coordinates {(4.112,1.43)(4.135,1.17)(4.16,1.35)(4.19,1.55)(4.22,1.29)(4.25,1.45)(4.28,1.5)(4.31,1.4)(4.34,1.44)(4.37,1.48)(4.39,1.55)(4.42,1.5)(4.45,1.52)(4.47,1.34)(4.5,1.3)(4.52,1.15)(4.54,0.84)(4.555,2.04)(4.565,1.45)};
\addlegendentry{CC}
\addplot[only marks, mark=*, mark size=1.1pt, mark options={fill=cdcyan, draw=cdcyan}] coordinates {(4.112,1.68)(4.145,1.95)(4.18,1.85)(4.21,1.83)(4.24,1.78)(4.27,1.72)(4.3,1.66)(4.33,1.62)(4.36,1.6)(4.38,1.92)(4.41,1.92)(4.44,2.15)(4.455,2.46)(4.47,2.77)(4.495,3.19)(4.51,0.98)(4.54,1.25)(4.565,1.38)};
\addlegendentry{CD}
\end{axis}

% ================= panel g =================
\begin{axis}[base, ybar, xtick pos=left, ytick pos=left, at={(376pt,-230pt)}, width=122pt, height=87pt,
  xmin=-0.52, xmax=1.5, ymin=0, ymax=30.4, ytick={0,5,...,30}, minor y tick num=1,
  xtick={0,1}, xticklabels={P-LCO,F-LCO}, xtick style={draw=none},
  yticklabel style={font=\fs{5.2}{6}}, xticklabel style={font=\fs{7}{8}}, label style={font=\fs{5.6}{6.5}},
  ylabel={Impedance(Ω)},
  legend style={draw=none, fill=none, at={(0.99,0.99)}, anchor=north east, font=\fs{5}{5.5}, row sep=-1pt, inner sep=0.5pt},
  legend cell align=left,
  legend image code/.code={\path[#1] (0pt,-2pt) rectangle (9pt,2.6pt);},
  nodes near coords, point meta=explicit symbolic,
  every node near coord/.append style={font=\fs{5.5}{6}, black, inner sep=1pt}]
\addplot[bar width=0.305, bar shift=-0.1525, draw=none, top color=gcyanT, bottom color=gcyanB] coordinates {(0,9.616) [9.616] (1,4.14) [4.14]};
\addlegendentry{R\textsubscript{CEI}}
\addplot[bar width=0.305, bar shift=0.1525, draw=none, top color=gorT, bottom color=gorB] coordinates {(0,24.7) [24.7] (1,19.44) [19.44]};
\addlegendentry{R\textsubscript{ct}}
\end{axis}

% ================= panel h =================
\fill[hIII] (45pt,-339pt) rectangle (163pt,-483pt);
\shade[left color=hIIa, right color=hIIb] (163pt,-339pt) rectangle (353pt,-483pt);
\shade[left color=hIa, right color=hIb] (353pt,-339pt) rectangle (403pt,-483pt);
\fill[hEl] (403pt,-339pt) rectangle (499pt,-483pt);
\draw[gray, dashed, line width=0.5pt] (163pt,-339pt) -- (163pt,-483pt);
\draw[gray, dashed, line width=0.5pt] (353pt,-339pt) -- (353pt,-483pt);
\draw[hcyan, dashed, line width=0.9pt] (45pt,-339pt) rectangle (403pt,-483pt);
\begin{scope}[every node/.style={font=\fs{9.5}{10}, text=black!85, inner sep=0}]
\node at (98pt,-348pt) {Region III:};
\node at (98pt,-361pt) {Bulk LCO};
\node at (253pt,-348pt) {Region II:};
\node at (253pt,-361pt) {Co-O\&Co\textsuperscript{2+}-F};
\node[font=\fs{11}{12}] at (253pt,-375pt) {\textasciitilde10 nm};
\node at (378pt,-348pt) {Region I:};
\node at (378pt,-361pt) {LiF};
\node[font=\fs{11}{12}] at (378pt,-375pt) {\textasciitilde1 nm};
\node at (450pt,-348pt) {Organic};
\node at (450pt,-362pt) {electrolyte};
\end{scope}
\begin{scope}[every node/.style={font=\bfseries\fs{9.5}{10}, inner sep=0}]
\node[anchor=east] at (336pt,-398pt) {O\textsuperscript{2-}$\leftrightarrow$O\textsuperscript{n-}};
\draw[-{Stealth[length=3.5pt]}, line width=0.6pt] (339pt,-398pt) -- (378pt,-398pt);
\node[anchor=west] at (380pt,-398pt) {O\textsuperscript{1-}};
\node[anchor=east] at (339pt,-425pt) {Li\textsuperscript{+}};
\draw[{Stealth[length=3.5pt]}-{Stealth[length=3.5pt]}, line width=0.6pt] (342pt,-425pt) -- (423pt,-425pt);
\node[anchor=west] at (425pt,-425pt) {Li\textsuperscript{+}};
\node at (379pt,-418pt) {Fast};
\node at (379pt,-431pt) {transport};
\node[anchor=east] at (338pt,-463pt) {Co\textsuperscript{3+}$\leftrightarrow$Co\textsuperscript{4+}};
\draw[-{Stealth[length=3.5pt]}, line width=0.6pt] (342pt,-463pt) -- (409pt,-463pt);
\node at (432pt,-455pt) {Catalytic};
\node at (432pt,-468pt) {activity};
\end{scope}
\draw[xred, line width=1.4pt] (350pt,-394pt) -- (358pt,-402pt) (350pt,-402pt) -- (358pt,-394pt);
\draw[xred, line width=1.4pt] (371pt,-459pt) -- (379pt,-467pt) (371pt,-467pt) -- (379pt,-459pt);

% ================= panel letters =================
\begin{scope}[every node/.style={font=\bfseries\fs{14}{14}, anchor=base west, inner sep=0}]
\node at (1pt,-11pt) {a};
\node at (1pt,-129pt) {b};
\node at (170pt,-128pt) {c};
\node at (1pt,-238pt) {d};
\node at (340pt,-11pt) {e};
\node at (341pt,-121pt) {f};
\node at (340pt,-233pt) {g};
\node at (1pt,-348pt) {h};
\end{scope}
\end{tikzpicture}
\end{document}
